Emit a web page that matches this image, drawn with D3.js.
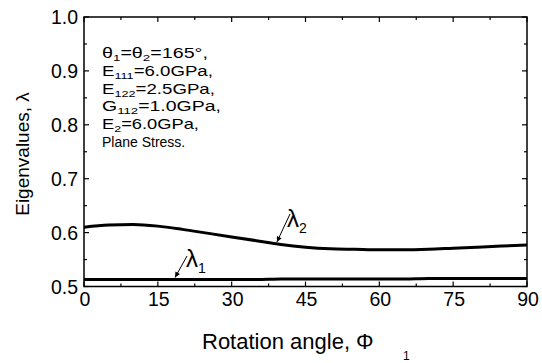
<!DOCTYPE html>
<html>
<head>
<meta charset="utf-8">
<script src="https://cdn.jsdelivr.net/npm/d3@7"></script>
<style>
  html, body { margin: 0; padding: 0; background: #fff; }
  svg { display: block; font-family: "Liberation Sans", Arial, Helvetica, sans-serif; }
</style>
</head>
<body>
<svg id="chart" width="542" height="363"></svg>
<script>
// Rotation angle (degrees) at which eigenvalues were sampled
const phi = [0, 5, 10, 15, 20, 25, 30, 35, 40, 45, 50, 55, 60, 65, 70, 75, 80, 85, 90];
// Second eigenvalue
const lambda2 = [0.610, 0.614, 0.615, 0.612, 0.606, 0.599, 0.592, 0.585, 0.578, 0.573,
                 0.570, 0.569, 0.568, 0.568, 0.569, 0.571, 0.573, 0.575, 0.577];
// First eigenvalue
const lambda1 = [0.513, 0.513, 0.513, 0.513, 0.513, 0.513, 0.513, 0.513, 0.514, 0.514,
                 0.514, 0.514, 0.514, 0.514, 0.515, 0.515, 0.515, 0.515, 0.515];

const xTicks = [0, 15, 30, 45, 60, 75, 90];
const xMinorTicks = [7.5, 22.5, 37.5, 52.5, 67.5, 82.5];
const yTicks = [0.5, 0.6, 0.7, 0.8, 0.9, 1.0];
const yMinorTicks = [0.55, 0.65, 0.75, 0.85, 0.95];

// Material / loading parameters: [text, isSubscript] pieces per line
const infoLines = [
  [["θ", 0], ["1", 1], ["=θ", 0], ["2", 1], ["=165°,", 0]],
  [["E", 0], ["111", 1], ["=6.0GPa,", 0]],
  [["E", 0], ["122", 1], ["=2.5GPa,", 0]],
  [["G", 0], ["112", 1], ["=1.0GPa,", 0]],
  [["E", 0], ["2", 1], ["=6.0GPa,", 0]],
  [["Plane Stress.", 0]]
];

const svg = d3.select("#chart");
const mLeft = 84, mRight = 527, mTop = 17, mBottom = 286.5;

const x = d3.scaleLinear().domain([0, 90]).range([mLeft, mRight]);
const y = d3.scaleLinear().domain([0.5, 1.0]).range([mBottom, mTop]);

const g = svg.append("g");

// frame
g.append("rect")
  .attr("x", mLeft).attr("y", mTop)
  .attr("width", mRight - mLeft).attr("height", mBottom - mTop)
  .attr("fill", "none").attr("stroke", "#000").attr("stroke-width", 1.5);

// inward ticks on all four sides
function xticks(values, len) {
  values.forEach(v => {
    g.append("line").attr("x1", x(v)).attr("x2", x(v)).attr("y1", mBottom).attr("y2", mBottom - len)
      .attr("stroke", "#000").attr("stroke-width", 1.2);
    g.append("line").attr("x1", x(v)).attr("x2", x(v)).attr("y1", mTop).attr("y2", mTop + len)
      .attr("stroke", "#000").attr("stroke-width", 1.2);
  });
}
function yticks(values, len) {
  values.forEach(v => {
    g.append("line").attr("y1", y(v)).attr("y2", y(v)).attr("x1", mLeft).attr("x2", mLeft + len)
      .attr("stroke", "#000").attr("stroke-width", 1.2);
    g.append("line").attr("y1", y(v)).attr("y2", y(v)).attr("x1", mRight).attr("x2", mRight - len)
      .attr("stroke", "#000").attr("stroke-width", 1.2);
  });
}
xticks(xTicks, 5); xticks(xMinorTicks, 3);
yticks(yTicks, 5); yticks(yMinorTicks, 3);

// tick labels
g.selectAll(".xl").data(xTicks).enter().append("text")
  .attr("x", d => x(d) + 1).attr("y", 306)
  .attr("text-anchor", "middle").attr("font-size", 19.5)
  .text(d => d);
g.selectAll(".yl").data(yTicks).enter().append("text")
  .attr("x", 78).attr("y", d => y(d) + 7)
  .attr("text-anchor", "end").attr("font-size", 19.5)
  .text(d => d3.format(".1f")(d));

// axis titles
const xt = g.append("text").attr("x", 202).attr("y", 349).attr("font-size", 22);
xt.append("tspan").text("Rotation angle, Φ");
xt.append("tspan").attr("x", 403).attr("y", 360).attr("font-size", 12).text("1");

g.append("text")
  .attr("transform", "translate(29,154) rotate(-90)")
  .attr("text-anchor", "middle").attr("font-size", 19)
  .text("Eigenvalues, λ");

// curves
const line = d3.line().x((d, i) => x(phi[i])).y(d => y(d)).curve(d3.curveMonotoneX);
g.append("path").datum(lambda2).attr("d", line)
  .attr("fill", "none").attr("stroke", "#000").attr("stroke-width", 3);
g.append("path").datum(lambda1).attr("d", line)
  .attr("fill", "none").attr("stroke", "#000").attr("stroke-width", 3);

// parameter block; digit-heavy lines are set in a wide face, stretched to width
const infoX = 102;
const infoWidths = [106, 111, 113, 119, 97, null];
infoLines.forEach((parts, i) => {
  const t = g.append("text").attr("x", infoX).attr("y", 58 + i * 17.8).attr("font-size", 14);
  let shift = 0;
  parts.forEach(([txt, isSub]) => {
    const target = isSub ? 3 : 0;
    t.append("tspan")
      .attr("dy", target - shift)
      .attr("font-size", isSub ? 9.5 : 14)
      .text(txt);
    shift = target;
  });
  const w = infoWidths[i];
  if (w) {
    const natural = t.node().getComputedTextLength();
    const sx = w / natural;
    t.attr("transform", `translate(${infoX},0) scale(${sx},1) translate(${-infoX},0)`);
  }
});

// curve labels with leader arrows
function label(tx, ty, sub, x1, y1, phiAt, valAt) {
  const t = g.append("text").attr("x", tx).attr("y", ty).attr("font-size", 24);
  t.append("tspan").text("λ");
  t.append("tspan").attr("font-size", 14).attr("dy", 6).text(sub);
  const x2 = x(phiAt), y2 = y(valAt) - 2;
  g.append("line").attr("x1", x1).attr("y1", y1).attr("x2", x2).attr("y2", y2)
    .attr("stroke", "#000").attr("stroke-width", 1);
  const a = Math.atan2(y2 - y1, x2 - x1);
  const L = 6, w = 0.45;
  g.append("path")
    .attr("d", `M${x2},${y2}L${x2 - L * Math.cos(a - w)},${y2 - L * Math.sin(a - w)}L${x2 - L * Math.cos(a + w)},${y2 - L * Math.sin(a + w)}Z`)
    .attr("fill", "#000");
}
label(287, 227, "2", 290, 214, 39.2, 0.579);
label(186, 267, "1", 187, 256, 18.5, 0.513);
</script>
</body>
</html>
